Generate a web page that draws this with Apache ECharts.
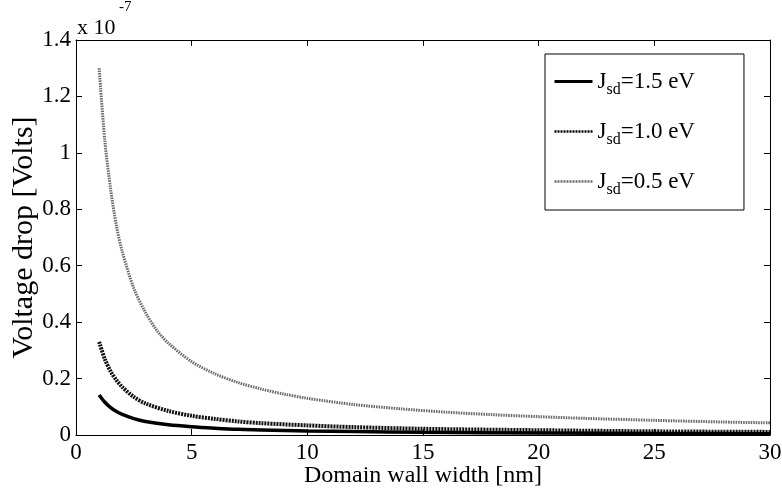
<!DOCTYPE html>
<html>
<head>
<meta charset="utf-8">
<script src="https://cdn.jsdelivr.net/npm/echarts@6/dist/echarts.min.js"></script>
<style>
  html, body { margin: 0; padding: 0; background: #fff; }
  #chart { width: 782px; height: 488px; }
</style>
</head>
<body>
<div id="chart"></div>
<script>
// Domain wall width [nm] and voltage drop (in units of 1e-7 V) for each J_sd
const width15 = [1, 1.25, 1.5, 1.75, 2, 2.5, 3, 4, 5, 6, 7, 8, 10, 12, 15, 20, 25, 30];
const drop15  = [0.142, 0.116, 0.097, 0.083, 0.073, 0.058, 0.048, 0.036, 0.029, 0.024, 0.020, 0.018, 0.014, 0.012, 0.0095, 0.0072, 0.0057, 0.0048];

const width10 = [1, 1.25, 1.5, 1.75, 2, 2.5, 3, 4, 5, 6, 7, 8, 10, 12, 15, 20, 25, 30];
const drop10  = [0.330, 0.268, 0.225, 0.194, 0.170, 0.135, 0.112, 0.085, 0.068, 0.057, 0.048, 0.042, 0.034, 0.028, 0.022, 0.017, 0.013, 0.011];

const width05 = [1, 1.25, 1.5, 1.75, 2, 2.5, 3, 3.5, 4, 5, 6, 7, 8, 9, 10, 12, 14, 16, 18, 20, 22, 25, 28, 30];
const drop05  = [1.30, 1.04, 0.87, 0.74, 0.65, 0.52, 0.435, 0.37, 0.325, 0.26, 0.217, 0.186, 0.163, 0.145, 0.13, 0.108, 0.093, 0.081, 0.072, 0.065, 0.059, 0.052, 0.046, 0.043];

const seriesNames = ['J_sd=1.5 eV', 'J_sd=1.0 eV', 'J_sd=0.5 eV'];
const legendLabels = ['=1.5 eV', '=1.0 eV', '=0.5 eV'];

const xTicks = [0, 5, 10, 15, 20, 25, 30];
const yTicks = [0, 0.2, 0.4, 0.6, 0.8, 1, 1.2, 1.4];

const FONT = 'Liberation Serif';

function pairs(xs, ys) { return xs.map((x, i) => [x, ys[i]]); }

const chart = echarts.init(document.getElementById('chart'), null, { renderer: 'canvas' });

const axisText = { color: '#000', fontFamily: FONT, fontSize: 23 };
const tickStyle = { show: true, inside: true, length: 6, lineStyle: { color: '#000', width: 1 } };

const option = {
  backgroundColor: '#fff',
  animation: false,
  grid: { left: 76, right: 12, top: 40, bottom: 53, containLabel: false, outerBoundsMode: 'none' },
  xAxis: [
    {
      type: 'value', min: xTicks[0], max: xTicks[xTicks.length - 1], interval: 5,
      axisLine: { show: true, onZero: false, lineStyle: { color: '#000', width: 1 } },
      axisTick: tickStyle,
      splitLine: { show: false },
      axisLabel: Object.assign({ margin: 6, hideOverlap: false, showMinLabel: true, showMaxLabel: true }, axisText),
      name: 'Domain wall width [nm]', nameLocation: 'middle', nameGap: 29, nameMoveOverlap: false,
      nameTextStyle: { color: '#000', fontFamily: FONT, fontSize: 24 }
    },
    {
      type: 'value', position: 'top', min: xTicks[0], max: xTicks[xTicks.length - 1], interval: 5,
      axisLine: { show: true, onZero: false, lineStyle: { color: '#000', width: 1 } },
      axisTick: tickStyle, axisLabel: { show: false }, splitLine: { show: false }
    }
  ],
  yAxis: [
    {
      type: 'value', min: yTicks[0], max: yTicks[yTicks.length - 1], interval: 0.2,
      axisLine: { show: true, onZero: false, lineStyle: { color: '#000', width: 1 } },
      axisTick: tickStyle,
      splitLine: { show: false },
      axisLabel: Object.assign({ margin: 5, showMinLabel: true, showMaxLabel: true }, axisText),
      name: 'Voltage drop [Volts]', nameLocation: 'middle', nameGap: 37, nameRotate: 90, nameMoveOverlap: false,
      nameTextStyle: { color: '#000', fontFamily: FONT, fontSize: 30 }
    },
    {
      type: 'value', position: 'right', min: yTicks[0], max: yTicks[yTicks.length - 1], interval: 0.2,
      axisLine: { show: true, onZero: false, lineStyle: { color: '#000', width: 1 } },
      axisTick: tickStyle, axisLabel: { show: false }, splitLine: { show: false }
    }
  ],
  legend: {
    show: true,
    orient: 'vertical',
    left: 545, top: 54,
    padding: [16, 49, 12, 8],
    itemGap: 22,
    itemWidth: 38, itemHeight: 14,
    borderColor: '#000', borderWidth: 1,
    backgroundColor: '#fff',
    itemStyle: { opacity: 0 },
    data: [
      { name: seriesNames[0], lineStyle: { width: 3, color: '#000', type: 'solid' } },
      { name: seriesNames[1], lineStyle: { width: 2.5, color: '#000', type: [2, 1] } },
      { name: seriesNames[2], lineStyle: { width: 2.5, color: '#6a6a6a', type: [2, 1] } }
    ],
    formatter: function (name) {
      const i = seriesNames.indexOf(name);
      return '{m|J}{s|sd}{m|' + legendLabels[i] + '}';
    },
    textStyle: {
      color: '#000', fontFamily: FONT, fontSize: 23,
      rich: {
        m: { fontFamily: FONT, fontSize: 23, color: '#000', lineHeight: 30, verticalAlign: 'middle' },
        s: { fontFamily: FONT, fontSize: 16, color: '#000', padding: [17, 0, 0, 0], verticalAlign: 'top' }
      }
    }
  },
  graphic: [
    {
      type: 'text', left: 77, top: 17,
      style: { text: 'x 10', font: '22px "Liberation Serif"', fill: '#000' }
    },
    {
      type: 'text', left: 119, top: 0,
      style: { text: '-7', font: '15px "Liberation Serif"', fill: '#000' }
    }
  ],
  series: [
    {
      name: seriesNames[0], type: 'line', data: pairs(width15, drop15),
      smooth: 0.3, symbol: 'none', showSymbol: false, z: 3,
      lineStyle: { color: '#000', width: 3.5, type: 'solid' }, itemStyle: { color: '#000' }
    },
    {
      name: seriesNames[1], type: 'line', data: pairs(width10, drop10),
      smooth: 0.3, symbol: 'none', showSymbol: false, z: 2,
      lineStyle: { color: '#111', width: 4, type: [2, 1] }, itemStyle: { color: '#111' }
    },
    {
      name: seriesNames[2], type: 'line', data: pairs(width05, drop05),
      smooth: 0.3, symbol: 'none', showSymbol: false, z: 1,
      lineStyle: { color: '#6a6a6a', width: 3, type: [1.5, 1] }, itemStyle: { color: '#6a6a6a' }
    }
  ]
};

chart.setOption(option);
</script>
</body>
</html>
